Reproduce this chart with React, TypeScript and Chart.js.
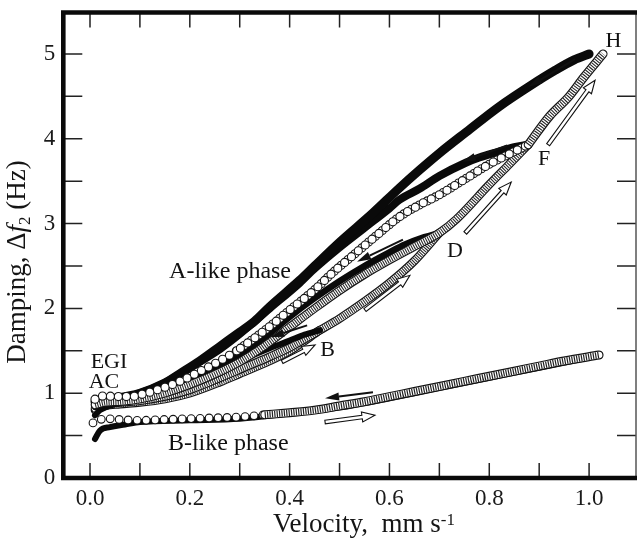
import React, { useEffect, useRef } from 'react';
import { Chart, registerables } from 'chart.js';
Chart.register(...registerables);

const FONT = "'Liberation Serif', 'Times New Roman', 'DejaVu Serif', serif";

// ---- axes ----
const X_MIN = -0.0535;
const X_MAX = 1.094;
const Y_MIN = 0;
const Y_MAX = 5.489;
const X_TICKS = [0, 0.1, 0.2, 0.3, 0.4, 0.5, 0.6, 0.7, 0.8, 0.9, 1.0];
const X_LABELED = [0, 0.2, 0.4, 0.6, 0.8, 1.0];
const Y_TICKS = [0, 0.5, 1, 1.5, 2, 2.5, 3, 3.5, 4, 4.5, 5];
const Y_LABELED = [0, 1, 2, 3, 4, 5];

// ---- B-like phase ----
const BL_DOWN_X = [0.01, 0.02, 0.04, 0.07, 0.1, 0.2, 0.3, 0.4, 0.5, 0.6, 0.7, 0.8, 0.9, 1.0];
const BL_DOWN_Y = [0.46, 0.56, 0.6, 0.63, 0.66, 0.68, 0.7, 0.76, 0.83, 0.94, 1.06, 1.18, 1.3, 1.42];
const BL_UP_X = [0.006, 0.03, 0.06, 0.1, 0.15, 0.2, 0.25, 0.3, 0.35, 0.4, 0.45, 0.5, 0.55, 0.6, 0.65, 0.7, 0.75, 0.8, 0.85, 0.9, 0.95, 1.02];
const BL_UP_Y = [0.65, 0.7, 0.69, 0.68, 0.69, 0.7, 0.71, 0.72, 0.745, 0.77, 0.8, 0.85, 0.9, 0.96, 1.02, 1.08, 1.14, 1.2, 1.26, 1.32, 1.38, 1.45];

// ---- A-like phase: returns (filled) ----
const R1_X = [0.01, 0.02, 0.05, 0.1, 0.15, 0.2, 0.26, 0.3, 0.36, 0.4, 0.43, 0.461];
const R1_Y = [0.74, 0.8, 0.87, 0.93, 1.01, 1.12, 1.27, 1.38, 1.53, 1.62, 1.69, 1.745];
const R2_X = [0.01, 0.02, 0.05, 0.1, 0.15, 0.2, 0.26, 0.3, 0.35, 0.4, 0.45, 0.5, 0.55, 0.6, 0.63, 0.67, 0.7];
const R2_Y = [0.84, 0.87, 0.9, 0.96, 1.04, 1.15, 1.32, 1.45, 1.66, 1.9, 2.12, 2.32, 2.5, 2.66, 2.75, 2.84, 2.89];
const R3_X = [0.01, 0.02, 0.05, 0.1, 0.15, 0.2, 0.26, 0.3, 0.36, 0.42, 0.45, 0.5, 0.55, 0.6, 0.62, 0.66, 0.7, 0.754, 0.78, 0.82, 0.85, 0.878];
const R3_Y = [0.87, 0.9, 0.93, 1.0, 1.12, 1.3, 1.52, 1.7, 2.0, 2.3, 2.47, 2.72, 2.95, 3.18, 3.28, 3.41, 3.56, 3.72, 3.78, 3.85, 3.9, 3.93];
const R4_X = [0.01, 0.02, 0.05, 0.1, 0.15, 0.18, 0.22, 0.26, 0.3, 0.33, 0.36, 0.42, 0.45, 0.5, 0.566, 0.62, 0.66, 0.7, 0.754, 0.82, 0.886, 0.93, 0.97, 1.0];
const R4_Y = [0.9, 0.92, 0.94, 1.0, 1.12, 1.23, 1.38, 1.55, 1.72, 1.85, 2.02, 2.33, 2.5, 2.78, 3.12, 3.42, 3.63, 3.83, 4.08, 4.38, 4.64, 4.8, 4.93, 5.0];

// ---- A-like phase: increasing sweeps (open) ----
const U1_X = [0.01, 0.03, 0.06, 0.1, 0.15, 0.2, 0.26, 0.3, 0.36, 0.4, 0.461];
const U1_Y = [0.8, 0.85, 0.87, 0.89, 0.93, 1.0, 1.13, 1.23, 1.38, 1.5, 1.745];
const U2_X = [0.01, 0.03, 0.06, 0.1, 0.15, 0.2, 0.26, 0.3, 0.36, 0.4, 0.461, 0.5, 0.55, 0.6, 0.65, 0.7];
const U2_Y = [0.82, 0.87, 0.89, 0.91, 0.96, 1.04, 1.18, 1.28, 1.43, 1.54, 1.745, 1.88, 2.08, 2.3, 2.56, 2.89];
const U3_X = [0.01, 0.03, 0.06, 0.1, 0.15, 0.2, 0.26, 0.3, 0.35, 0.4, 0.45, 0.5, 0.55, 0.6, 0.65, 0.7, 0.734, 0.8, 0.84, 0.878];
const U3_Y = [0.86, 0.89, 0.9, 0.93, 1.0, 1.1, 1.25, 1.37, 1.56, 1.78, 2.0, 2.21, 2.4, 2.57, 2.73, 2.89, 3.05, 3.46, 3.7, 3.93];
const U4_X = [0.01, 0.03, 0.05, 0.08, 0.1, 0.14, 0.18, 0.234, 0.26, 0.294, 0.35, 0.4, 0.45, 0.486, 0.53, 0.57, 0.62, 0.66, 0.7, 0.75, 0.8, 0.84, 0.878, 0.92, 0.96, 0.99, 1.028];
const U4_Y = [0.93, 0.97, 0.96, 0.96, 0.98, 1.05, 1.14, 1.3, 1.38, 1.5, 1.74, 1.98, 2.22, 2.42, 2.64, 2.84, 3.08, 3.22, 3.34, 3.52, 3.7, 3.82, 3.93, 4.26, 4.5, 4.73, 5.0];

// ---- arrows [x0, y0, x1(head), y1(head)] ----
const FILLED_ARROWS = [
  [0.972, 4.94, 0.878, 4.61],
  [0.836, 3.92, 0.745, 3.73],
  [0.627, 2.81, 0.535, 2.55],
  [0.435, 1.8, 0.361, 1.66],
  [0.567, 1.01, 0.471, 0.94],
];
const OPEN_ARROWS = [
  [0.471, 0.66, 0.571, 0.74],
  [0.385, 1.37, 0.451, 1.57],
  [0.551, 1.98, 0.641, 2.39],
  [0.752, 2.89, 0.844, 3.49],
  [0.918, 3.93, 1.012, 4.69],
];

// ---- annotations (centre x, baseline y) ----
const LABEL_TEXT = ['H', 'F', 'D', 'B', 'EGI', 'AC', 'A-like phase', 'B-like phase'];
const LABEL_X = [1.049, 0.91, 0.731, 0.476, 0.038, 0.028, 0.2806, 0.277];
const LABEL_Y = [5.086, 3.69, 2.61, 1.44, 1.297, 1.06, 2.36, 0.33];
const LABEL_SIZE = [22, 22, 22, 22, 22, 22, 24, 24];

function pts(xs: number[], ys: number[]) {
  return xs.map((x, i) => ({ x, y: ys[i] }));
}

function buildDatasets() {
  const layers: any[] = [];
  const base = {
    pointRadius: 0,
    pointHoverRadius: 0,
    fill: false,
    cubicInterpolationMode: 'monotone',
    borderJoinStyle: 'round',
  };
  const solid = (data: any[], w: number) => {
    layers.push({ ...base, data, borderColor: '#0a0a0a', borderWidth: w, borderCapStyle: 'round' });
  };
  // chain of separate open circles
  const open = (data: any[], r: number, spacing: number, passes: number) => {
    for (let k = 0; k < passes; k++) {
      const off = -(k * spacing) / passes;
      layers.push({ ...base, data, borderColor: '#161616', borderWidth: 2 * r + 1.2, borderDash: [0, spacing], borderDashOffset: off, borderCapStyle: 'round' });
      layers.push({ ...base, data, borderColor: '#ffffff', borderWidth: 2 * r - 1.0, borderDash: [0, spacing], borderDashOffset: off, borderCapStyle: 'round' });
    }
  };
  // densely overlapping open circles -> hatched band
  const hatched = (data: any[], r: number, dash: number[], hatchColor: string) => {
    layers.push({ ...base, data, borderColor: '#141414', borderWidth: 2 * r + 1.4, borderCapStyle: 'round' });
    layers.push({ ...base, data, borderColor: '#ffffff', borderWidth: 2 * r - 1.0, borderCapStyle: 'round' });
    layers.push({ ...base, data, borderColor: hatchColor, borderWidth: 2 * r - 1.0, borderDash: dash, borderCapStyle: 'butt' });
  };
  // B-like phase
  solid(pts(BL_DOWN_X, BL_DOWN_Y), 6);
  const bl = pts(BL_UP_X, BL_UP_Y);
  open(bl.slice(0, 9), 3.8, 9, 1);
  hatched(bl.slice(8), 3.8, [1.2, 1.2], '#222');
  // A-like sweeps below the returns of the same loop
  hatched(pts(U1_X, U1_Y), 3.6, [1.1, 1.1], '#2a2a2a');
  hatched(pts(U2_X, U2_Y), 3.6, [1.1, 1.1], '#2a2a2a');
  // A-like returns
  solid(pts(R1_X, R1_Y), 6);
  solid(pts(R2_X, R2_Y), 6.5);
  solid(pts(R3_X, R3_Y), 8);
  solid(pts(R4_X, R4_Y), 9);
  hatched(pts(U3_X, U3_Y), 3.6, [1.1, 1.2], '#2a2a2a');
  const u4 = pts(U4_X, U4_Y);
  open(u4.slice(0, 10), 4, 8, 1);
  open(u4.slice(9, 23), 4, 9, 2);
  hatched(u4.slice(22), 3.8, [1.1, 1.3], '#222');
  return layers.map((d, i) => ({ ...d, order: layers.length - i }));
}

function drawFilledArrow(ctx: CanvasRenderingContext2D, x0: number, y0: number, x1: number, y1: number) {
  const a = Math.atan2(y1 - y0, x1 - x0);
  const L = 14, W = 4;
  const bx = x1 - L * Math.cos(a), by = y1 - L * Math.sin(a);
  ctx.beginPath();
  ctx.moveTo(x0, y0);
  ctx.lineTo(bx, by);
  ctx.lineWidth = 2;
  ctx.strokeStyle = '#111';
  ctx.stroke();
  ctx.beginPath();
  ctx.moveTo(x1, y1);
  ctx.lineTo(bx + W * Math.sin(a), by - W * Math.cos(a));
  ctx.lineTo(bx - W * Math.sin(a), by + W * Math.cos(a));
  ctx.closePath();
  ctx.fillStyle = '#111';
  ctx.fill();
}

function drawOpenArrow(ctx: CanvasRenderingContext2D, x0: number, y0: number, x1: number, y1: number) {
  const a = Math.atan2(y1 - y0, x1 - x0);
  const len = Math.hypot(x1 - x0, y1 - y0);
  const L = 13, W = 5, h = 1.8;
  const local = [[0, -h], [len - L, -h], [len - L, -W], [len, 0], [len - L, W], [len - L, h], [0, h]];
  ctx.beginPath();
  local.forEach(([u, v], i) => {
    const px = x0 + u * Math.cos(a) - v * Math.sin(a);
    const py = y0 + u * Math.sin(a) + v * Math.cos(a);
    if (i === 0) ctx.moveTo(px, py); else ctx.lineTo(px, py);
  });
  ctx.closePath();
  ctx.fillStyle = '#fff';
  ctx.fill();
  ctx.lineWidth = 1.1;
  ctx.strokeStyle = '#111';
  ctx.stroke();
}

function drawParts(ctx: CanvasRenderingContext2D, parts: { t: string; f: string; dy: number }[], cx: number, baseY: number) {
  let total = 0;
  parts.forEach(p => { ctx.font = p.f; total += ctx.measureText(p.t).width; });
  let x = cx - total / 2;
  ctx.textAlign = 'left';
  ctx.textBaseline = 'alphabetic';
  parts.forEach(p => {
    ctx.font = p.f;
    ctx.fillText(p.t, x, baseY + p.dy);
    x += ctx.measureText(p.t).width;
  });
}

const decorPlugin = {
  id: 'decor',
  afterDraw(chart: any) {
    const { ctx, chartArea: a, scales } = chart;
    const xs = scales.x, ys = scales.y;
    ctx.save();
    // arrows
    FILLED_ARROWS.forEach(([x0, y0, x1, y1]) =>
      drawFilledArrow(ctx, xs.getPixelForValue(x0), ys.getPixelForValue(y0), xs.getPixelForValue(x1), ys.getPixelForValue(y1)));
    OPEN_ARROWS.forEach(([x0, y0, x1, y1]) =>
      drawOpenArrow(ctx, xs.getPixelForValue(x0), ys.getPixelForValue(y0), xs.getPixelForValue(x1), ys.getPixelForValue(y1)));
    // labels
    ctx.fillStyle = '#111';
    ctx.textAlign = 'center';
    ctx.textBaseline = 'alphabetic';
    LABEL_TEXT.forEach((t, i) => {
      ctx.font = `${LABEL_SIZE[i]}px ${FONT}`;
      ctx.fillText(t, xs.getPixelForValue(LABEL_X[i]), ys.getPixelForValue(LABEL_Y[i]));
    });
    // tick marks (inward, all four sides)
    ctx.strokeStyle = '#222';
    ctx.lineWidth = 1.5;
    ctx.beginPath();
    X_TICKS.forEach(v => {
      const px = xs.getPixelForValue(v);
      ctx.moveTo(px, a.bottom); ctx.lineTo(px, a.bottom - 15);
      ctx.moveTo(px, a.top); ctx.lineTo(px, a.top + 15);
    });
    Y_TICKS.forEach(v => {
      const py = ys.getPixelForValue(v);
      ctx.moveTo(a.left, py); ctx.lineTo(a.left + 19, py);
      ctx.moveTo(a.right, py); ctx.lineTo(a.right - 19, py);
    });
    ctx.stroke();
    // frame
    ctx.strokeStyle = '#555';
    ctx.lineWidth = 1.5;
    ctx.beginPath();
    ctx.moveTo(a.right, a.top); ctx.lineTo(a.right, a.bottom);
    ctx.stroke();
    ctx.strokeStyle = '#0a0a0a';
    ctx.lineWidth = 4.6;
    ctx.lineCap = 'square';
    ctx.beginPath();
    ctx.moveTo(a.left, a.bottom); ctx.lineTo(a.left, a.top);
    ctx.moveTo(a.left, a.top); ctx.lineTo(chart.width, a.top);
    ctx.moveTo(a.left, a.bottom); ctx.lineTo(chart.width, a.bottom);
    ctx.stroke();
    // axis titles
    ctx.fillStyle = '#151515';
    drawParts(ctx, [
      { t: 'Velocity,  mm s', f: `27px ${FONT}`, dy: 0 },
      { t: '-1', f: `17px ${FONT}`, dy: -7 },
    ], 364, 532);
    ctx.save();
    ctx.translate(25, 262);
    ctx.rotate(-Math.PI / 2);
    drawParts(ctx, [
      { t: 'Damping, Δ', f: `27px ${FONT}`, dy: 0 },
      { t: 'f', f: `italic 27px ${FONT}`, dy: 0 },
      { t: '2', f: `17px ${FONT}`, dy: 5 },
      { t: ' (Hz)', f: `27px ${FONT}`, dy: 0 },
    ], 0, 0);
    ctx.restore();
    ctx.restore();
  },
};

const noPad = (s: any) => {
  s.paddingTop = 0;
  s.paddingBottom = 0;
  s.paddingLeft = 0;
  s.paddingRight = 0;
};

export default function App() {
  const ref = useRef<HTMLCanvasElement | null>(null);
  useEffect(() => {
    if (!ref.current) return;
    const chart = new Chart(ref.current, {
      type: 'line',
      data: { datasets: buildDatasets() },
      options: {
        animation: false,
        responsive: false,
        devicePixelRatio: 1,
        layout: { padding: { left: 0, right: 1, top: 12.5, bottom: 0 } },
        plugins: { legend: { display: false }, tooltip: { enabled: false } },
        events: [],
        scales: {
          x: {
            type: 'linear',
            min: X_MIN,
            max: X_MAX,
            grid: { display: false, drawTicks: false },
            border: { display: false },
            afterFit: (s: any) => { s.height = 64; noPad(s); },
            afterBuildTicks: (s: any) => { s.ticks = X_LABELED.map(v => ({ value: v })); },
            ticks: {
              autoSkip: false,
              maxRotation: 0,
              padding: 7,
              color: '#1a1a1a',
              font: { family: FONT, size: 23 },
              callback: (v: any) => Number(v).toFixed(1),
            },
          },
          y: {
            type: 'linear',
            min: Y_MIN,
            max: Y_MAX,
            grid: { display: false, drawTicks: false },
            border: { display: false },
            afterFit: (s: any) => { s.width = 63.3; noPad(s); },
            afterBuildTicks: (s: any) => { s.ticks = Y_LABELED.map(v => ({ value: v })); },
            ticks: {
              autoSkip: false,
              padding: 8,
              color: '#1a1a1a',
              font: { family: FONT, size: 23 },
              callback: (v: any) => String(v),
            },
          },
        },
      },
      plugins: [decorPlugin],
    } as any);
    return () => chart.destroy();
  }, []);
  return (
    <div style={{ position: 'absolute', left: 0, top: 0, width: 637, height: 542, background: '#fff' }}>
      <canvas ref={ref} width={637} height={542} style={{ display: 'block' }} />
    </div>
  );
}
